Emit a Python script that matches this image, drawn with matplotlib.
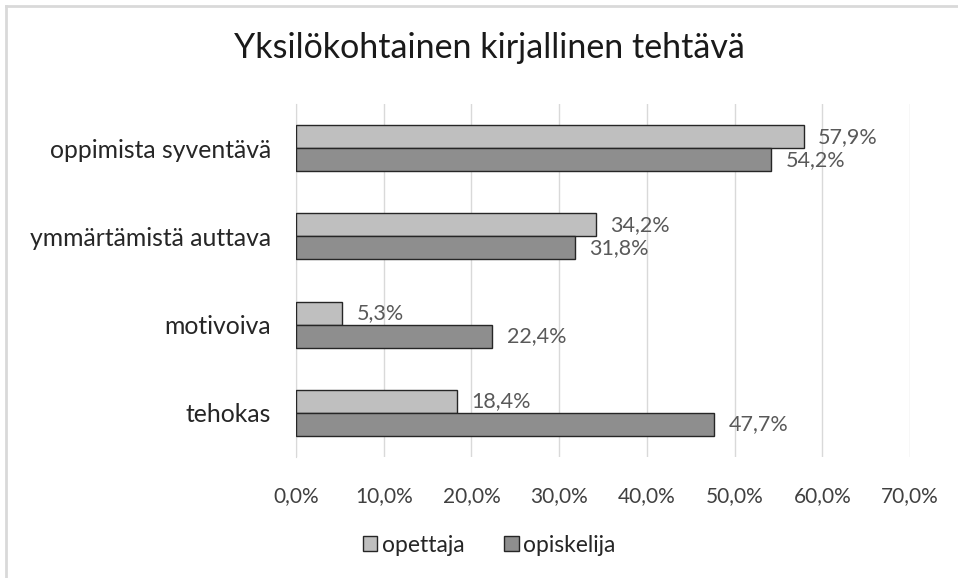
import matplotlib
matplotlib.use("Agg")
import matplotlib.pyplot as plt
from matplotlib.lines import Line2D
from matplotlib.patches import Patch
import numpy as np

plt.rcParams['font.family'] = ['Lato', 'DejaVu Sans']

title = "Yksilökohtainen kirjallinen tehtävä"
categories = ["oppimista syventävä", "ymmärtämistä auttava", "motivoiva", "tehokas"]
opettaja = [57.9, 34.2, 5.3, 18.4]
opiskelija = [54.2, 31.8, 22.4, 47.7]
series_names = ["opettaja", "opiskelija"]
xticks = [0, 10, 20, 30, 40, 50, 60, 70]

W, H = 958, 578
fig = plt.figure(figsize=(W / 100, H / 100), dpi=100)
fig.patch.set_facecolor("white")

# axes in pixel coords
x0, x1 = 296, 910
y_top, y_bot = 104, 457
ax = fig.add_axes([x0 / W, 1 - y_bot / H, (x1 - x0) / W, (y_bot - y_top) / H])

n = len(categories)
pos = np.arange(n)[::-1]  # first category at top
h = 0.26
light = "#BFBFBF"
dark = "#8E8E8E"
edge = "#262626"

b1 = ax.barh(pos + h / 2, opettaja, height=h, color=light, edgecolor=edge, linewidth=1.0, zorder=3)
b2 = ax.barh(pos - h / 2, opiskelija, height=h, color=dark, edgecolor=edge, linewidth=1.0, zorder=3)

def fmt(v):
    return f"{v:.1f}%".replace(".", ",")

for bars, vals in ((b1, opettaja), (b2, opiskelija)):
    for rect, v in zip(bars, vals):
        ax.text(v + 1.6, rect.get_y() + rect.get_height() / 2, fmt(v),
                va="center", ha="left", fontsize=15.5, color="#595959", zorder=4)

ax.set_xlim(0, 70)
ax.set_ylim(-0.5, n - 0.5)
ax.set_xticks(xticks)
ax.set_xticklabels([fmt(float(t)) for t in xticks], fontsize=15, color="#404040")
ax.set_yticks(pos)
ax.set_yticklabels(categories, fontsize=17.8, color="#262626")
ax.tick_params(axis="both", length=0)
ax.tick_params(axis="x", pad=21)
ax.tick_params(axis="y", pad=18)
ax.grid(axis="x", color="#D9D9D9", linewidth=1.0, zorder=0)
for s in ("top", "right", "bottom"):
    ax.spines[s].set_visible(False)
ax.spines["left"].set_color("#D9D9D9")
ax.set_axisbelow(True)

fig.text(489 / W, 1 - 48 / H, title, ha="center", va="center", fontsize=24.5, color="#1a1a1a")

handles = [Patch(facecolor=light, edgecolor=edge, linewidth=1.0),
           Patch(facecolor=dark, edgecolor=edge, linewidth=1.0)]
leg = fig.legend(handles, series_names, loc="center", bbox_to_anchor=(489 / W, 1 - 545 / H),
                 ncol=2, frameon=False, fontsize=16.5, handlelength=0.65, handleheight=0.65,
                 handletextpad=0.2, columnspacing=1.7)
for t in leg.get_texts():
    t.set_color("#262626")

# light gray border (top and left only)
fig.add_artist(Line2D([6 / W, 1], [1 - 6 / H, 1 - 6 / H], transform=fig.transFigure, color="#D9D9D9", linewidth=2))
fig.add_artist(Line2D([6 / W, 6 / W], [0, 1 - 6 / H], transform=fig.transFigure, color="#D9D9D9", linewidth=2))

fig.savefig("out.png", dpi=100, facecolor="white")
